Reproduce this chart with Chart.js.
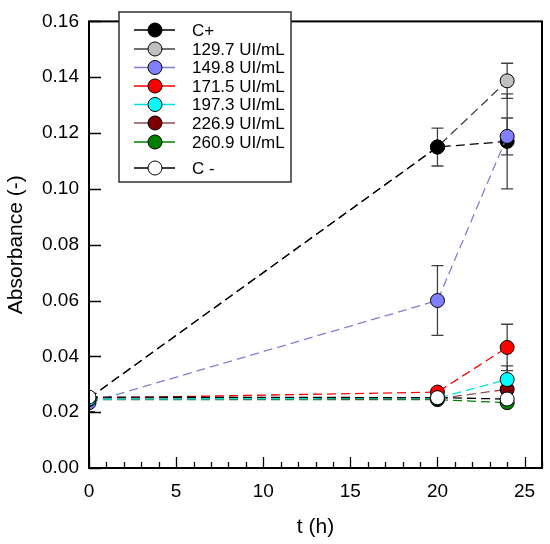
<!DOCTYPE html>
<html>
<head>
<meta charset="utf-8">
<script src="https://cdn.jsdelivr.net/npm/chart.js@4"></script>
<style>
    html, body { margin: 0; padding: 0; background: #ffffff; }
    #wrap { width: 550px; height: 544px; position: relative; }
</style>
</head>
<body>
<div id="wrap"><canvas id="absChart"></canvas></div>
<script>
// Data
const times = [0, 20, 24];
const seriesNames = ['C+', '129.7 UI/mL', '149.8 UI/mL', '171.5 UI/mL', '197.3 UI/mL', '226.9 UI/mL', '260.9 UI/mL', 'C -'];
const cPlus   = [0.0250, 0.1150, 0.1170];
const u1297   = [0.0250, 0.1150, 0.1387];
const u1498   = [0.0234, 0.0600, 0.1188];
const u1715   = [0.0250, 0.0272, 0.0432];
const u1973   = [0.0247, 0.0250, 0.0317];
const u2269   = [0.0248, 0.0248, 0.0282];
const u2609   = [0.0245, 0.0245, 0.0234];
const cMinus  = [0.0254, 0.0252, 0.0247];
// error bar half-widths
const cPlusErr  = [0, 0.0068, 0.0170];
const u1297Err  = [0, 0, 0.0063];
const u1498Err  = [0.0032, 0.0125, 0.0066];
const u1715Err  = [0, 0.0010, 0.0083];
const u1973Err  = [0, 0, 0.0049];
const u2269Err  = [0, 0, 0];
const u2609Err  = [0, 0, 0];
const cMinusErr = [0, 0, 0];
const xTicks = [0, 5, 10, 15, 20, 25];
const yTicks = [0, 0.02, 0.04, 0.06, 0.08, 0.10, 0.12, 0.14, 0.16];

const FONT = "Arial, 'Liberation Sans', sans-serif";

// name, values, errors, marker fill, line colour, drawing order
const series = [
    [seriesNames[0], cPlus, cPlusErr, '#000000', '#000000', 7],
    [seriesNames[1], u1297, u1297Err, '#c0c0c0', '#404040', 8],
    [seriesNames[2], u1498, u1498Err, '#8080ff', '#8080d0', 6],
    [seriesNames[3], u1715, u1715Err, '#ff0000', '#ff0000', 3],
    [seriesNames[4], u1973, u1973Err, '#00ffff', '#00e0e0', 2],
    [seriesNames[5], u2269, u2269Err, '#800000', '#905050', 4],
    [seriesNames[6], u2609, u2609Err, '#008000', '#008000', 5],
    [seriesNames[7], cMinus, cMinusErr, '#ffffff', '#000000', 1]
];

const datasets = series.map(s => ({
    label: s[0],
    data: times.map((t, i) => ({ x: t, y: s[1][i] })),
    errors: s[2],
    borderColor: s[4],
    borderWidth: 1.3,
    borderDash: [9, 5],
    pointBackgroundColor: s[3],
    pointBorderColor: '#000000',
    pointBorderWidth: 1,
    pointRadius: 7,
    pointHoverRadius: 7,
    legendLine: s[4],
    order: s[5],
    fill: false,
    tension: 0
}));

// error bars, drawn under the markers
const errorBars = {
    id: 'errorBars',
    beforeDatasetsDraw(chart) {
        const ctx = chart.ctx, a = chart.chartArea;
        const xs = chart.scales.x, ys = chart.scales.y;
        ctx.save();
        ctx.beginPath();
        ctx.rect(a.left, a.top, a.right - a.left, a.bottom - a.top);
        ctx.clip();
        ctx.strokeStyle = '#404040';
        ctx.lineWidth = 1.3;
        chart.data.datasets.forEach(ds => {
            ds.data.forEach((p, i) => {
                const e = ds.errors[i];
                if (!e) return;
                const px = xs.getPixelForValue(p.x);
                const y1 = ys.getPixelForValue(p.y + e);
                const y2 = ys.getPixelForValue(p.y - e);
                ctx.beginPath();
                ctx.moveTo(px, y1); ctx.lineTo(px, y2);
                ctx.moveTo(px - 6, y1); ctx.lineTo(px + 6, y1);
                ctx.moveTo(px - 6, y2); ctx.lineTo(px + 6, y2);
                ctx.stroke();
            });
        });
        ctx.restore();
    }
};

// frame, inward ticks and legend box
const frameAndLegend = {
    id: 'frameAndLegend',
    afterDraw(chart) {
        const ctx = chart.ctx, a = chart.chartArea;
        const xs = chart.scales.x, ys = chart.scales.y;
        ctx.save();
        ctx.strokeStyle = '#000000';
        ctx.lineWidth = 2;
        ctx.strokeRect(a.left, a.top, a.right - a.left, a.bottom - a.top);

        ctx.lineWidth = 1.3;
        ctx.beginPath();
        for (let t = 0; t <= 26; t++) {
            const px = Math.round(xs.getPixelForValue(t)) + 0.5;
            const len = t % 5 === 0 ? 11 : 6;
            ctx.moveTo(px, a.bottom);
            ctx.lineTo(px, a.bottom - len);
        }
        yTicks.forEach(v => {
            const py = Math.round(ys.getPixelForValue(v)) + 0.5;
            ctx.moveTo(a.left, py);
            ctx.lineTo(a.left + 12, py);
        });
        ctx.stroke();

        // legend
        const bx = 119, by = 12, bw = 172, bh = 170;
        ctx.fillStyle = '#ffffff';
        ctx.fillRect(bx, by, bw, bh);
        ctx.strokeStyle = '#303030';
        ctx.lineWidth = 1.5;
        ctx.strokeRect(bx, by, bw, bh);
        const rows = [30, 49, 67.5, 86, 104.5, 123, 142, 168];
        ctx.font = '17px ' + FONT;
        ctx.textBaseline = 'middle';
        chart.data.datasets.forEach((ds, i) => {
            const y = rows[i];
            ctx.strokeStyle = ds.legendLine;
            ctx.lineWidth = 1.3;
            ctx.beginPath();
            ctx.moveTo(134, y); ctx.lineTo(175, y);
            ctx.stroke();
            ctx.beginPath();
            ctx.arc(155, y, 7, 0, Math.PI * 2);
            ctx.fillStyle = ds.pointBackgroundColor;
            ctx.fill();
            ctx.strokeStyle = '#000000';
            ctx.lineWidth = 1;
            ctx.stroke();
            ctx.fillStyle = '#000000';
            ctx.fillText(ds.label, 192, y + 1);
        });
        ctx.restore();
    }
};

new Chart(document.getElementById('absChart'), {
    type: 'line',
    data: { datasets: datasets },
    plugins: [errorBars, frameAndLegend],
    options: {
        responsive: true,
        maintainAspectRatio: false,
        animation: false,
        layout: { padding: { left: 0, right: 3, top: 10, bottom: 0 } },
        plugins: {
            legend: { display: false },
            tooltip: { enabled: false }
        },
        scales: {
            x: {
                type: 'linear',
                min: 0,
                max: 26,
                afterFit: s => { s.height = 76; },
                afterBuildTicks: s => { s.ticks = xTicks.map(v => ({ value: v })); },
                grid: { display: false, drawTicks: false },
                border: { display: false },
                ticks: { color: '#000', font: { family: FONT, size: 19 }, padding: 12, maxRotation: 0 },
                title: { display: true, text: 't (h)', color: '#000', font: { family: FONT, size: 21 }, padding: { top: 6 } }
            },
            y: {
                min: 0,
                max: 0.16,
                afterFit: s => { s.width = 89; },
                afterBuildTicks: s => { s.ticks = yTicks.map(v => ({ value: v })); },
                grid: { display: false, drawTicks: false },
                border: { display: false },
                ticks: {
                    color: '#000',
                    font: { family: FONT, size: 19 },
                    padding: 10,
                    callback: v => v.toFixed(2)
                },
                title: { display: true, text: 'Absorbance (-)', color: '#000', font: { family: FONT, size: 21 }, padding: { bottom: 4 } }
            }
        }
    }
});
</script>
</body>
</html>
